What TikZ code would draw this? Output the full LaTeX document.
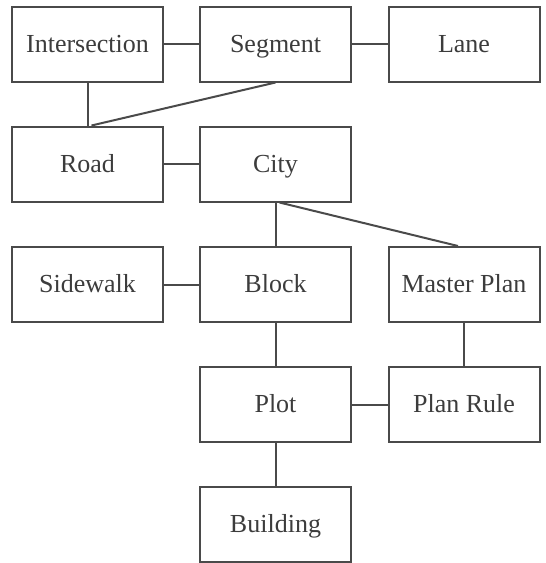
\documentclass[tikz,border=0pt]{standalone}
\usepackage{fontspec}
\setmainfont{Liberation Serif}
\definecolor{ink}{HTML}{4A4A4A}
\definecolor{txt}{HTML}{3C3C3C}
\begin{document}
\begin{tikzpicture}[x=1pt,y=-1pt,
  ent/.style={draw=ink, line width=2pt, minimum width=151pt, minimum height=75pt,
    inner sep=0pt, text height=18pt, text depth=2pt, text=txt,
    font=\fontsize{26}{30}\selectfont},
  link/.style={draw=ink, line width=2pt}]
\useasboundingbox (0,0) rectangle (546,563);
\node[ent] (inter) at (87.5,44) {Intersection};
\node[ent] (seg)   at (275.5,44) {Segment};
\node[ent] (lane)  at (464,44) {Lane};
\node[ent] (road)  at (87.5,164) {Road};
\node[ent] (city)  at (275.5,164) {City};
\node[ent] (side)  at (87.5,284.5) {Sidewalk};
\node[ent] (block) at (275.5,284.5) {Block};
\node[ent] (mp)    at (464,284.5) {Master Plan};
\node[ent] (plot)  at (275.5,404.5) {Plot};
\node[ent] (rule)  at (464,404.5) {Plan Rule};
\node[ent] (bld)   at (275.5,524) {Building};
\draw[link] (inter) -- (seg);
\draw[link] (seg) -- (lane);
\draw[link] (inter) -- (road);
\draw[link] (seg.south) -- ([xshift=4pt]road.north);
\draw[link] (road) -- (city);
\draw[link] (city) -- (block);
\draw[link] ([xshift=4pt]city.south) -- ([xshift=-6pt]mp.north);
\draw[link] (side) -- (block);
\draw[link] (block) -- (plot);
\draw[link] (mp) -- (rule);
\draw[link] (plot) -- (rule);
\draw[link] (plot) -- (bld);
\end{tikzpicture}
\end{document}
